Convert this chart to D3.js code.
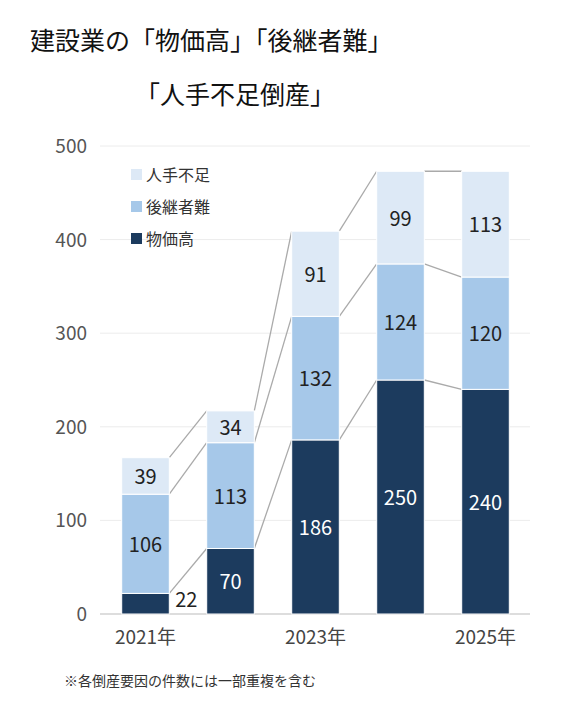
<!DOCTYPE html>
<html><head><meta charset="utf-8">
<script src="https://cdn.jsdelivr.net/npm/d3@7"></script>
<style>body{margin:0;background:#fff;font-family:"Noto Sans CJK JP","Noto Sans",sans-serif;}</style>
</head><body><div id="chart"></div>
<script>
const years = ["2021年", "2022年", "2023年", "2024年", "2025年"];
const yearLabels = ["2021年", "", "2023年", "", "2025年"];
const bukka = [22, 70, 186, 250, 240];
const koukei = [106, 113, 132, 124, 120];
const hitode = [39, 34, 91, 99, 113];
const yTicks = [0, 100, 200, 300, 400, 500];
const seriesNames = ["物価高", "後継者難", "人手不足"];
const colors = ["#1c3b5e", "#a6c8e9", "#dde9f6"];

const W = 582, H = 704;
const svg = d3.select("#chart").append("svg").attr("width", W).attr("height", H);
const x = d3.scaleBand().domain(years).range([103, 528]).paddingInner(0.44).paddingOuter(0.22);
const y = d3.scaleLinear().domain([0, 500]).range([614, 146]);

svg.append("text").attr("x", 30).attr("y", 50).attr("font-size", 25).attr("fill", "#111").text("建設業の「物価高」「後継者難」");
svg.append("text").attr("x", 135).attr("y", 104).attr("font-size", 25).attr("fill", "#111").text("「人手不足倒産」");

svg.append("g").selectAll("line").data(yTicks).join("line")
  .attr("x1", 100).attr("x2", 530).attr("y1", d => y(d)).attr("y2", d => y(d))
  .attr("stroke", d => d === 0 ? "#bbb" : "#ececec");
svg.append("g").selectAll("text").data(yTicks).join("text")
  .attr("x", 87).attr("y", d => y(d) + 7).attr("text-anchor", "end")
  .attr("font-size", 19).attr("fill", "#555").text(d => d);

const data = years.map((yr, i) => ({ yr, vals: [bukka[i], koukei[i], hitode[i]] }));
const stacked = data.map(d => {
  let c = 0;
  return d.vals.map((v, k) => { const s = { yr: d.yr, v, k, y0: c, y1: c + v }; c += v; return s; });
});

// connectors
for (let i = 0; i < years.length - 1; i++) {
  for (let k = 0; k < 3; k++) {
    svg.append("line")
      .attr("x1", x(years[i]) + x.bandwidth()).attr("y1", y(stacked[i][k].y1))
      .attr("x2", x(years[i + 1])).attr("y2", y(stacked[i + 1][k].y1))
      .attr("stroke", "#aaa").attr("stroke-width", 1.3);
  }
}

const segs = stacked.flat();
svg.append("g").selectAll("rect").data(segs).join("rect")
  .attr("x", d => x(d.yr)).attr("width", x.bandwidth())
  .attr("y", d => y(d.y1)).attr("height", d => y(d.y0) - y(d.y1))
  .attr("fill", d => colors[d.k]).attr("stroke", "#fff").attr("stroke-width", 1);

svg.append("g").selectAll("text").data(segs).join("text")
  .attr("x", d => d.v < 30 ? x(d.yr) + x.bandwidth() + 17 : x(d.yr) + x.bandwidth() / 2)
  .attr("y", d => d.v < 30 ? y(d.y0) - 7 : y((d.y0 + d.y1) / 2) + 8)
  .attr("text-anchor", "middle").attr("font-size", 20)
  .attr("fill", d => d.k === 0 && d.v >= 30 ? "#fff" : "#222").text(d => d.v);

svg.append("g").selectAll("text").data(years).join("text")
  .attr("x", d => x(d) + x.bandwidth() / 2).attr("y", 644).attr("text-anchor", "middle")
  .attr("font-size", 19).attr("fill", "#444").text((d, i) => yearLabels[i]);

const leg = svg.append("g").selectAll("g").data([2, 1, 0]).join("g")
  .attr("transform", (d, i) => `translate(131,${175 + i * 32})`);
leg.append("rect").attr("x", 0).attr("y", -6).attr("width", 11).attr("height", 11).attr("fill", d => colors[d]);
leg.append("text").attr("x", 15).attr("y", 6).attr("font-size", 16).attr("fill", "#333").text(d => seriesNames[d]);

svg.append("text").attr("x", 64).attr("y", 686).attr("font-size", 14).attr("fill", "#333").text("※各倒産要因の件数には一部重複を含む");
</script></body></html>
